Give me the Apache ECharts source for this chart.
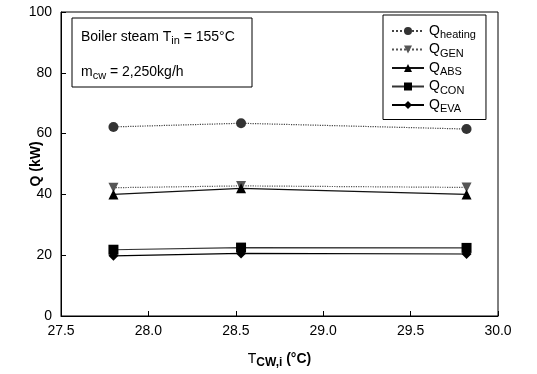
<!DOCTYPE html>
<html lang="en">
<head>
    <meta charset="UTF-8">
    <title>Q vs T_cw,i</title>
    <script src="https://cdn.jsdelivr.net/npm/echarts@6/dist/echarts.min.js"></script>
    <style>
        html, body { margin: 0; padding: 0; background: #fff; }
        #chart { width: 537px; height: 374px; }
    </style>
</head>
<body>
    <div id="chart"></div>
    <script>
        // data
        var tcw = [27.8, 28.53, 29.82];
        var qHeating = [62.2, 63.4, 61.5];
        var qGen = [42.2, 42.8, 42.3];
        var qAbs = [40.0, 42.0, 40.0];
        var qCon = [21.8, 22.5, 22.4];
        var qEva = [19.8, 20.6, 20.4];
        var xTicks = ['27.5', '28.0', '28.5', '29.0', '29.5', '30.0'];

        var font = 'Liberation Sans, Arial, sans-serif';

        function pairs(ys) {
            return tcw.map(function (x, i) { return [x, ys[i]]; });
        }

        function mkSeries(name, ys, symbol, rotate, color, lineType, lineColor) {
            return {
                name: name,
                type: 'line',
                data: pairs(ys),
                symbol: symbol,
                symbolSize: 10,
                symbolRotate: rotate,
                itemStyle: { color: color },
                lineStyle: { color: lineColor, width: 1.2, type: lineType },
                animation: false
            };
        }

        var subs = { Qheating: 'heating', QGEN: 'GEN', QABS: 'ABS', QCON: 'CON', QEVA: 'EVA' };

        var chart = echarts.init(document.getElementById('chart'));
        chart.setOption({
            animation: false,
            grid: {
                left: 61, right: 39, top: 12, bottom: 58,
                outerBoundsMode: 'none',
                show: true, borderColor: '#000', borderWidth: 1
            },
            legend: {
                orient: 'vertical',
                left: 383, top: 15,
                padding: [9, 10, 5, 8],
                itemGap: 2,
                itemWidth: 32, itemHeight: 10,
                borderColor: '#000', borderWidth: 1,
                formatter: function (n) { return '{m|Q}{s|' + subs[n] + '}'; },
                textStyle: {
                    rich: {
                        m: { fontFamily: font, fontSize: 14, color: '#000' },
                        s: { fontFamily: font, fontSize: 11, color: '#000', padding: [8, 0, 0, 0] }
                    }
                }
            },
            xAxis: {
                type: 'value',
                min: 27.5, max: 30, interval: 0.5,
                name: '{t|T}{s|CW,i}{u| (°C)}',
                nameLocation: 'middle', nameGap: 33,
                nameTextStyle: {
                    rich: {
                        t: { fontFamily: font, fontSize: 14, color: '#000' },
                        s: { fontFamily: font, fontSize: 12, fontWeight: 'bold', color: '#000', padding: [8, 0, 0, 0] },
                        u: { fontFamily: font, fontSize: 14, fontWeight: 'bold', color: '#000' }
                    }
                },
                axisLine: { lineStyle: { color: '#000', width: 1 } },
                axisTick: { inside: true, length: 5, lineStyle: { color: '#000' } },
                axisLabel: {
                    color: '#000', fontFamily: font, fontSize: 14, margin: 8,
                    formatter: function (v) {
                        var s = v.toFixed(1);
                        return xTicks.indexOf(s) >= 0 ? s : '';
                    }
                },
                splitLine: { show: false }
            },
            yAxis: {
                type: 'value',
                min: 0, max: 100, interval: 20,
                name: 'Q (kW)',
                nameLocation: 'middle', nameGap: 18, nameRotate: 90,
                nameMoveOverlap: false,
                nameTextStyle: { fontFamily: font, fontSize: 14, fontWeight: 'bold', color: '#000' },
                axisLine: { show: true, lineStyle: { color: '#000', width: 1 } },
                axisTick: { show: true, inside: true, length: 5, lineStyle: { color: '#000' } },
                axisLabel: { color: '#000', fontFamily: font, fontSize: 14, margin: 9 },
                splitLine: { show: false }
            },
            graphic: [
                {
                    type: 'rect',
                    shape: { x: 72, y: 18, width: 180, height: 69 },
                    style: { fill: '#fff', stroke: '#000', lineWidth: 1 },
                    z: 10
                },
                {
                    type: 'text', left: 81, top: 30, z: 11,
                    style: {
                        text: '{m|Boiler steam T}{s|in}{m| = 155°C}',
                        rich: {
                            m: { fontFamily: font, fontSize: 14, fill: '#000' },
                            s: { fontFamily: font, fontSize: 11, fill: '#000', padding: [8, 0, 0, 0] }
                        }
                    }
                },
                {
                    type: 'text', left: 81, top: 65, z: 11,
                    style: {
                        text: '{m|m}{s|cw}{m| = 2,250kg/h}',
                        rich: {
                            m: { fontFamily: font, fontSize: 14, fill: '#000' },
                            s: { fontFamily: font, fontSize: 11, fill: '#000', padding: [8, 0, 0, 0] }
                        }
                    }
                }
            ],
            series: [
                mkSeries('Qheating', qHeating, 'circle', 0, '#333', 'dotted', '#444'),
                mkSeries('QGEN', qGen, 'triangle', 180, '#555', 'dotted', '#555'),
                mkSeries('QABS', qAbs, 'triangle', 0, '#000', 'solid', '#111'),
                mkSeries('QCON', qCon, 'rect', 0, '#000', 'solid', '#333'),
                mkSeries('QEVA', qEva, 'diamond', 0, '#000', 'solid', '#000')
            ]
        });
    </script>
</body>
</html>
